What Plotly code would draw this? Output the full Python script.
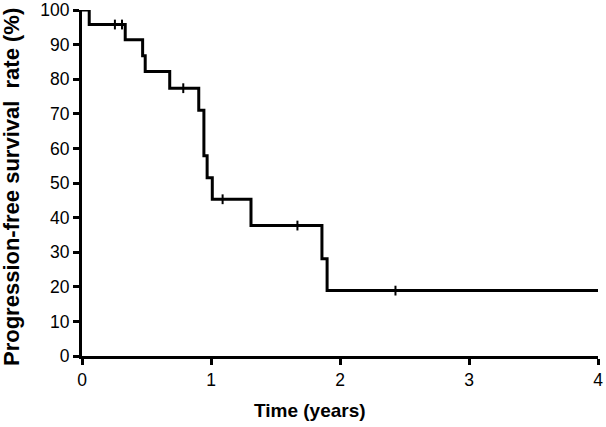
import plotly.graph_objects as go

# Kaplan-Meier step data (time in years, survival in %)
event_times = [0, 0.056, 0.335, 0.47, 0.49, 0.68, 0.905, 0.945, 0.97, 1.01, 1.31, 1.86, 1.90, 4.0]
survival = [100, 95.8, 91.4, 86.8, 82.2, 77.4, 71.0, 57.9, 51.5, 45.3, 37.7, 28.1, 18.9, 18.9]

# censored observations
censor_times = [0.255, 0.31, 0.785, 1.09, 1.67, 2.43]
censor_surv = [95.8, 95.8, 77.4, 45.3, 37.7, 18.9]

x_ticks = [0, 1, 2, 3, 4]
y_ticks = [0, 10, 20, 30, 40, 50, 60, 70, 80, 90, 100]

x_title = "<b>Time (years)</b>"
y_title = "<b>Progression-free survival&nbsp; rate (%)</b>"

fig = go.Figure()
fig.add_trace(go.Scatter(
    x=event_times, y=survival, mode="lines",
    line=dict(color="black", width=3, shape="hv"),
    showlegend=False, cliponaxis=False,
))
fig.add_trace(go.Scatter(
    x=censor_times, y=censor_surv, mode="markers",
    marker=dict(symbol="line-ns", size=7, line=dict(color="black", width=2)),
    showlegend=False, cliponaxis=False,
))

font_family = "Liberation Sans, Arial, sans-serif"
fig.update_layout(
    width=606, height=427,
    margin=dict(l=82, r=8, t=10, b=71),
    paper_bgcolor="white", plot_bgcolor="white",
    font=dict(family=font_family, color="black", size=17),
    annotations=[
        dict(text=x_title, xref="paper", yref="paper", x=0.5, y=0,
             xanchor="center", yanchor="middle", xshift=-30, yshift=-54,
             showarrow=False, font=dict(size=19)),
        dict(text=y_title, xref="paper", yref="paper", x=0, y=0.5,
             xanchor="center", yanchor="middle", xshift=-71, yshift=-4,
             textangle=-90, showarrow=False, font=dict(size=22)),
    ],
)
fig.update_xaxes(
    range=[0, 4], tickvals=x_ticks, ticktext=[str(v) for v in x_ticks],
    showgrid=False, zeroline=False, showline=True, linecolor="black", linewidth=3,
    ticks="outside", ticklen=6, tickwidth=3, tickcolor="black",
    tickfont=dict(size=17.5), ticklabeloverflow="allow", automargin=False,
)
fig.update_yaxes(
    range=[0, 100], tickvals=y_ticks, ticktext=[str(v) for v in y_ticks],
    showgrid=False, zeroline=False, showline=True, linecolor="black", linewidth=3,
    ticks="outside", ticklen=6, tickwidth=3, tickcolor="black",
    tickfont=dict(size=17.5), ticklabeloverflow="allow", automargin=False,
)

fig.write_html(
    "out.html",
    config={"displayModeBar": False},
    post_script="document.body.style.margin='0px';document.body.style.overflow='hidden';",
)
